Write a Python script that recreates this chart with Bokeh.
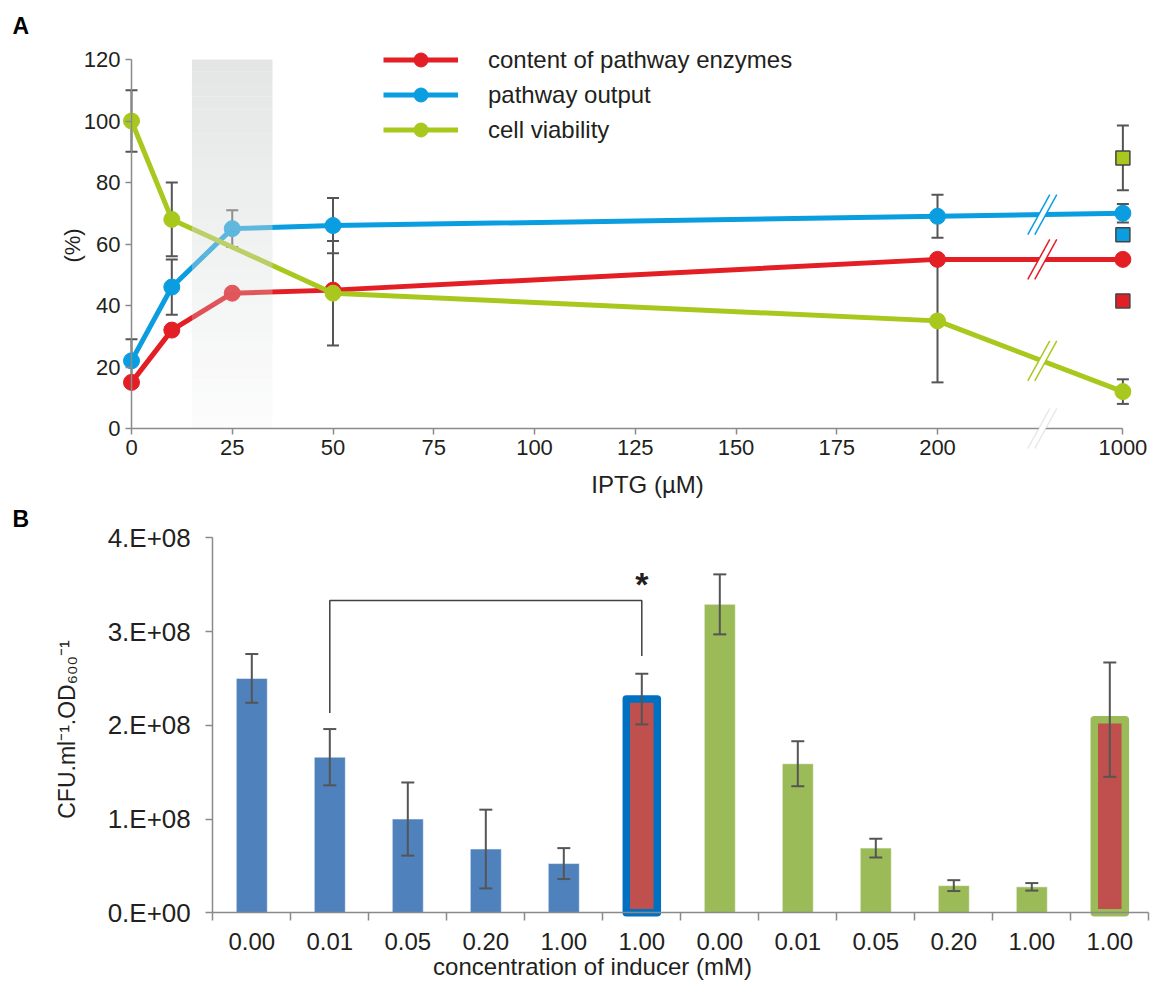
import math
from bokeh.plotting import figure
from bokeh.models import (Range1d, FixedTicker, Legend, LegendItem, Label, PolyAnnotation)
from bokeh.layouts import column
from bokeh.embed import file_html
from bokeh.resources import INLINE
from bokeh.core.properties import value

# ---------------- data: panel A ----------------
iptg = [0, 10, 25, 50, 200, 1000]
enzymes = [15, 32, 44, 45, 55, 55]
output = [22, 46, 65, 66, 69, 70]
output_err = [7, 9, 6, 9, 7, 3]
viab_iptg = [0, 10, 50, 200, 1000]
viability = [100, 68, 44, 35, 12]
viability_err = [10, 12, 17, 20, 4]
series_names = ["content of pathway enzymes", "pathway output", "cell viability"]
square_values = [41.5, 63, 88]
square_err = [0, 2, 10.5]
iptg_ticks = [0, 25, 50, 75, 100, 125, 150, 175, 200, 1000]
iptg_tick_labels = ["0", "25", "50", "75", "100", "125", "150", "175", "200", "1000"]
percent_ticks = [0, 20, 40, 60, 80, 100, 120]
shade_range = [15, 35]

# ---------------- data: panel B ----------------
conc_labels = ["0.00", "0.01", "0.05", "0.20", "1.00", "1.00",
               "0.00", "0.01", "0.05", "0.20", "1.00", "1.00"]
cfu = [2.50e8, 1.66e8, 1.00e8, 0.68e8, 0.525e8, 2.28e8,
       3.29e8, 1.59e8, 0.69e8, 0.29e8, 0.277e8, 2.06e8]
cfu_err = [0.26e8, 0.30e8, 0.39e8, 0.42e8, 0.165e8, 0.27e8,
           0.32e8, 0.24e8, 0.10e8, 0.058e8, 0.04e8, 0.61e8]
bar_group = ["blue"] * 6 + ["green"] * 6
bar_outlined = [False] * 5 + [True] + [False] * 5 + [True]
cfu_ticks = [0, 1e8, 2e8, 3e8, 4e8]
cfu_tick_labels = ["0.E+00", "1.E+08", "2.E+08", "3.E+08", "4.E+08"]
bracket_bars = [1, 5]
bracket_y = [2.13e8, 3.33e8, 2.74e8]
star_y = 3.54e8

# ---------------- styles ----------------
FONT = "Liberation Sans"
TXT = "#231f20"
AXC = "#8a8a8a"
ERRC = "#555555"
RED, BLUE, GREEN = "#e31e24", "#0a9ee0", "#a9c81e"
series_colors = [RED, BLUE, GREEN]
W = 1150

# panel A geometry (figure px)
SX, SY = 4.03, 3.075
X0, Y0 = 131, 428
POS_1000 = 246.0
BREAK = 226.0
HA = 500


def xpos(v):
    return v if v <= 200 else POS_1000


pA = figure(width=W, height=HA, output_backend="svg", toolbar_location=None, title=None,
            x_range=Range1d(-X0 / SX, (W - X0) / SX),
            y_range=Range1d((Y0 - HA) / SY, Y0 / SY),
            min_border_left=0, min_border_right=0, min_border_top=0, min_border_bottom=0)
pA.grid.visible = False
pA.outline_line_color = None


def style_axis(ax, size):
    ax.major_label_text_font = FONT
    ax.major_label_text_font_size = size
    ax.major_label_text_color = TXT
    ax.axis_line_color = AXC
    ax.axis_line_width = 1.5
    ax.major_tick_line_color = AXC
    ax.major_tick_line_width = 1.5
    ax.major_tick_in = 0


ya = pA.yaxis[0]
ya.fixed_location = 0
ya.bounds = (0, 120)
ya.ticker = FixedTicker(ticks=percent_ticks, minor_ticks=[])
style_axis(ya, "22px")
ya.major_tick_out = 6

xa = pA.xaxis[0]
xa.fixed_location = 0
xa.bounds = (0, POS_1000)
xa.ticker = FixedTicker(ticks=[xpos(t) for t in iptg_ticks], minor_ticks=[])
xa.major_label_overrides = {xpos(t): lab for t, lab in zip(iptg_ticks, iptg_tick_labels)}
style_axis(xa, "22px")
xa.major_tick_out = 6


def errbars(p, xs, ys, es, cap, width=2):
    pts = [(x, y, e) for x, y, e in zip(xs, ys, es) if e > 0]
    if not pts:
        return
    X = [q[0] for q in pts]
    lo = [q[1] - q[2] for q in pts]
    hi = [q[1] + q[2] for q in pts]
    p.segment(x0=X, y0=lo, x1=X, y1=hi, line_color=ERRC, line_width=width)
    p.scatter(x=X + X, y=lo + hi, marker="dash", size=cap, line_color=ERRC, line_width=width)


xs_all = [xpos(v) for v in iptg]
xs_via = [xpos(v) for v in viab_iptg]
errbars(pA, xs_all, output, output_err, 12)
errbars(pA, xs_via, viability, viability_err, 12)
errbars(pA, [POS_1000] * 3, square_values, square_err, 12)

series = [(xs_all, enzymes), (xs_all, output), (xs_via, viability)]
line_renderers = []
for (xs, ys), col in zip(series, series_colors):
    lr = pA.line(xs, ys, line_color=col, line_width=5)
    cr = pA.scatter(xs, ys, size=16, fill_color=col, line_color=col)
    line_renderers.append((lr, cr))

pA.scatter([POS_1000] * 3, square_values, marker="square", size=14,
           fill_color=series_colors, line_color="#444444", line_width=1.5)

# axis-break marks on the lines
hx, hy, g = 11 / SX, 20 / SY, 3.5 / SX
frac = (BREAK - 200) / (POS_1000 - 200)
for (xs, ys), col in zip(series, series_colors):
    yb = ys[-2] + (ys[-1] - ys[-2]) * frac
    pA.patch([BREAK - g - hx, BREAK - g + hx, BREAK + g + hx, BREAK + g - hx],
             [yb - hy, yb + hy, yb + hy, yb - hy], fill_color="white", line_color=None)
    pA.segment(x0=[BREAK - g - hx, BREAK + g - hx], y0=[yb - hy, yb - hy],
               x1=[BREAK - g + hx, BREAK + g + hx], y1=[yb + hy, yb + hy],
               line_color=col, line_width=1.5)

# break on the x axis
pA.add_layout(PolyAnnotation(xs=[BREAK - g - hx, BREAK - g + hx, BREAK + g + hx, BREAK + g - hx],
                             ys=[-hy, hy, hy, -hy], fill_color="white", fill_alpha=1,
                             line_color=None))
for off in (-g, g):
    pA.add_layout(PolyAnnotation(xs=[BREAK + off - hx, BREAK + off + hx],
                                 ys=[-hy, hy], fill_alpha=0, line_color="#b0b0b0",
                                 line_width=1.5))

# shaded band (vertical gradient, drawn over the lines)
nstrip = 30
for k in range(nstrip):
    b = 120 * k / nstrip
    t = 120 * (k + 1) / nstrip
    a = 0.08 + 0.62 * (k / (nstrip - 1))
    pA.quad(left=[shade_range[0]], right=[shade_range[1]], bottom=[b], top=[t],
            fill_color="#d9dcdc", fill_alpha=a, line_color=None)

legend = Legend(items=[LegendItem(label=n, renderers=[lr, cr])
                       for n, (lr, cr) in zip(series_names, line_renderers)],
                location=(383, HA - 147), orientation="vertical",
                glyph_width=75, glyph_height=35, label_height=35, spacing=0,
                padding=0, margin=0, label_standoff=30,
                border_line_color=None, background_fill_alpha=0,
                label_text_font=FONT, label_text_font_size="24px",
                label_text_color=TXT, label_text_baseline="middle")
pA.add_layout(legend)


def labelA(px, py, text, size, **kw):
    pA.add_layout(Label(x=(px - X0) / SX, y=(Y0 - py) / SY, text=text,
                        text_font=FONT, text_font_size=size, **kw))


labelA(12, 12, "A", "23px", text_font_style="bold", text_color="black",
       text_baseline="top", text_align="left")
labelA(647, 484, "IPTG (µM)", "24px", text_color=TXT,
       text_baseline="middle", text_align="center")
labelA(72, 245, "(%)", "22px", text_color=TXT, angle=math.pi / 2,
       text_baseline="middle", text_align="center")

# ---------------- panel B ----------------
HB = 482
TOPB = HA
BX0, BY0 = 212.3, 912.3 - TOPB     # figure px of (0, 0)
BSX, BSY = 78.0, 93.75e-8           # px per unit
pB = figure(width=W, height=HB, output_backend="svg", toolbar_location=None, title=None,
            x_range=Range1d(-BX0 / BSX, (W - BX0) / BSX),
            y_range=Range1d((BY0 - HB) / BSY, BY0 / BSY),
            min_border_left=0, min_border_right=0, min_border_top=0, min_border_bottom=0)
pB.grid.visible = False
pB.outline_line_color = None

centers = [i + 0.5 for i in range(len(cfu))]
fills = {"blue": "#4f81bd", "green": "#9bbb59"}
outlines = {"blue": "#0070c0", "green": "#9bbb59"}
BW = 31 / BSX

nx = [c for c, o in zip(centers, bar_outlined) if not o]
ny = [v for v, o in zip(cfu, bar_outlined) if not o]
nc = [fills[gp] for gp, o in zip(bar_group, bar_outlined) if not o]
pB.vbar(x=nx, top=ny, bottom=0, width=BW, fill_color=nc, line_color="white",
        line_alpha=0.5, line_width=1)
ox = [c for c, o in zip(centers, bar_outlined) if o]
oy = [v for v, o in zip(cfu, bar_outlined) if o]
oc = [outlines[gp] for gp, o in zip(bar_group, bar_outlined) if o]
pB.vbar(x=ox, top=oy, bottom=0, width=BW, fill_color="#c0504d", line_color=oc,
        line_width=7.5, line_join="round")

lo = [v - e for v, e in zip(cfu, cfu_err)]
hi = [v + e for v, e in zip(cfu, cfu_err)]
pB.segment(x0=centers, y0=lo, x1=centers, y1=hi, line_color=ERRC, line_width=2)
pB.scatter(x=centers + centers, y=lo + hi, marker="dash", size=13, line_color=ERRC, line_width=2)

bx = [centers[bracket_bars[0]], centers[bracket_bars[0]],
      centers[bracket_bars[1]], centers[bracket_bars[1]]]
by = [bracket_y[0], bracket_y[1], bracket_y[1], bracket_y[2]]
pB.line(bx, by, line_color="#404040", line_width=1.5)
pB.text(x=[centers[bracket_bars[1]]], y=[star_y], text=["*"], text_font=value(FONT),
        text_font_size="34px", text_font_style="bold", text_color="#231f20",
        text_align="center", text_baseline="alphabetic", y_offset=3)

xb = pB.xaxis[0]
xb.fixed_location = 0
xb.bounds = (0, len(cfu))
xb.ticker = FixedTicker(ticks=centers, minor_ticks=list(range(len(cfu) + 1)))
xb.major_label_overrides = {c: lab for c, lab in zip(centers, conc_labels)}
style_axis(xb, "24px")
xb.major_label_standoff = 12
xb.major_tick_line_color = None
xb.major_tick_out = 8
xb.minor_tick_line_color = AXC
xb.minor_tick_line_width = 1.5
xb.minor_tick_out = 8
xb.minor_tick_in = 0

yb_ = pB.yaxis[0]
yb_.fixed_location = 0
yb_.bounds = (0, 4e8)
yb_.ticker = FixedTicker(ticks=cfu_ticks, minor_ticks=[])
yb_.major_label_overrides = {t: lab for t, lab in zip(cfu_ticks, cfu_tick_labels)}
style_axis(yb_, "26px")
yb_.major_tick_out = 7
yb_.major_label_standoff = 15


def labelB(px, py, text, size, **kw):
    pB.add_layout(Label(x=(px - BX0) / BSX, y=(BY0 - (py - TOPB)) / BSY, text=text,
                        text_font=FONT, text_font_size=size, **kw))


labelB(12, 505, "B", "23px", text_font_style="bold", text_color="black",
       text_baseline="top", text_align="left")
labelB(592, 966, "concentration of inducer (mM)", "24px", text_color=TXT,
       text_baseline="middle", text_align="center")
labelB(66, 729, "CFU.ml\u207b\u00b9.OD\u2086\u2080\u2080\u207b\u00b9", "23px",
       text_color=TXT, angle=math.pi / 2, text_baseline="middle", text_align="center")

layout = column(pA, pB, spacing=0)
open("out.html", "w").write(file_html(layout, INLINE))
